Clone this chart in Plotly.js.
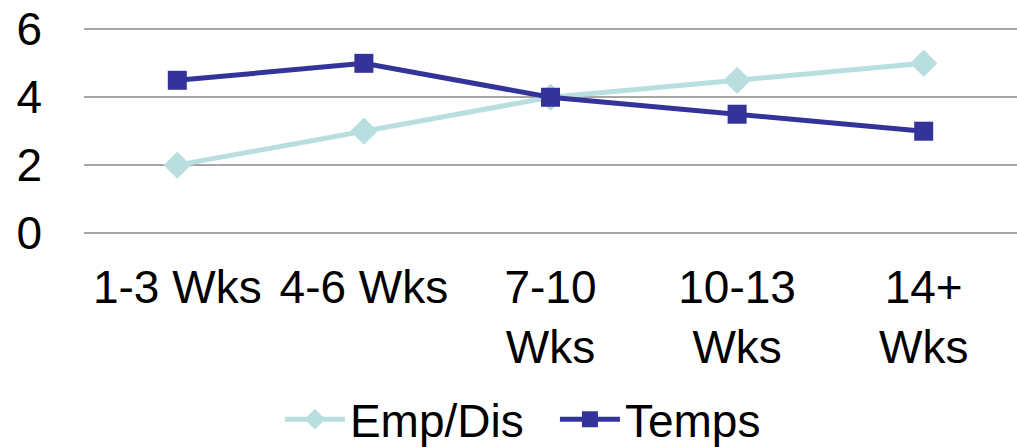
<!DOCTYPE html>
<html>
<head>
<meta charset="utf-8">
<script src="https://cdn.plot.ly/plotly-3.0.1.min.js"></script>
<style>html,body{margin:0;padding:0;background:#fff;}#chart{width:1017px;height:447px;}</style>
</head>
<body>
<div id="chart"></div>
<script>
const categories = ["1-3 Wks", "4-6 Wks", "7-10 Wks", "10-13 Wks", "14+ Wks"];
const tickLabels = ["1-3 Wks", "4-6 Wks", "7-10<br>Wks", "10-13<br>Wks", "14+<br>Wks"];
const empDis = [2, 3, 4, 4.5, 5];
const temps = [4.5, 5, 4, 3.5, 3];
const yTicks = [0, 2, 4, 6];

const data = [
  {x: categories, y: empDis, name: "Emp/Dis", type: "scatter", mode: "lines+markers",
   line: {color: "#B9DEE0", width: 5}, marker: {symbol: "diamond", size: 21, color: "#B9DEE0"}},
  {x: categories, y: temps, name: "Temps", type: "scatter", mode: "lines+markers",
   line: {color: "#333399", width: 5}, marker: {symbol: "square", size: 19, color: "#333399"}}
];

const layout = {
  width: 1017, height: 447,
  margin: {l: 84, r: 0, t: 26, b: 214, autoexpand: false},
  paper_bgcolor: "#fff", plot_bgcolor: "#fff",
  font: {family: "Liberation Sans, Arial, sans-serif", size: 46, color: "#000"},
  showlegend: true,
  legend: {orientation: "h", x: 0.21, xanchor: "left", y: -0.9, yanchor: "middle",
           font: {size: 46}, itemwidth: 60, tracegroupgap: 0,
           entrywidth: 200, entrywidthmode: "pixels", bgcolor: "rgba(0,0,0,0)"},
  xaxis: {type: "category", tickmode: "array", tickvals: categories, ticktext: tickLabels,
          showgrid: false, showline: false, zeroline: false, ticks: "", ticklabelstandoff: 23,
          range: [-0.5, 4.5]},
  yaxis: {range: [0, 6.1], tickmode: "array", tickvals: yTicks, showgrid: true,
          gridcolor: "#A6A6A6", gridwidth: 2, zeroline: true, zerolinecolor: "#A6A6A6",
          zerolinewidth: 2, showline: false, ticks: "", ticklabelstandoff: 41}
};

Plotly.newPlot("chart", data, layout, {displayModeBar: false});
</script>
</body>
</html>
